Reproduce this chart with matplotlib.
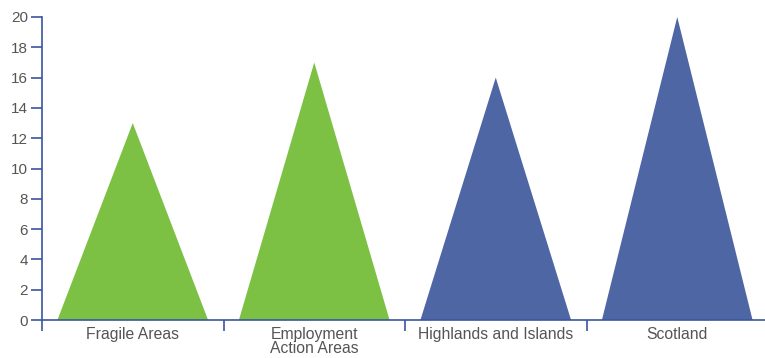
import matplotlib.pyplot as plt
import numpy as np

categories = ['Fragile Areas', 'Employment\nAction Areas', 'Highlands and Islands', 'Scotland']
values = [13, 17, 16, 20]
colors = ['#7cc144', '#7cc144', '#4f66a5', '#4f66a5']

plt.rcParams['font.family'] = ['Liberation Sans', 'DejaVu Sans']

fig = plt.figure(figsize=(7.65, 3.58), dpi=100)
ax = fig.add_axes([42 / 765, 1 - 320 / 358, 726 / 765, (320 - 17) / 358])

pad = 0.085
for i, (v, c) in enumerate(zip(values, colors)):
    ax.fill([i + pad, i + 0.5, i + 1 - pad], [0, v, 0], color=c, lw=0)

axis_col = '#3b55a0'
ax.set_xlim(0, len(categories))
ax.set_ylim(0, 20)
ax.set_yticks(np.arange(0, 21, 2))
ax.set_xticks(np.arange(0, len(categories) + 1))
ax.set_xticklabels([])
ax.set_xticks(np.arange(len(categories)) + 0.5, minor=True)
ax.set_xticklabels(categories, minor=True, linespacing=0.95)
ax.tick_params(axis='x', which='minor', length=0, pad=5, labelsize=11.3, labelcolor='#555555')
ax.tick_params(axis='x', which='major', length=8, color=axis_col, width=1.2)
ax.tick_params(axis='y', length=8, color=axis_col, width=1.2, labelsize=11, labelcolor='#555555', pad=2)

for s in ['top', 'right']:
    ax.spines[s].set_visible(False)
for s in ['left', 'bottom']:
    ax.spines[s].set_color(axis_col)
    ax.spines[s].set_linewidth(1.2)

fig.savefig('out.png', dpi=100)
